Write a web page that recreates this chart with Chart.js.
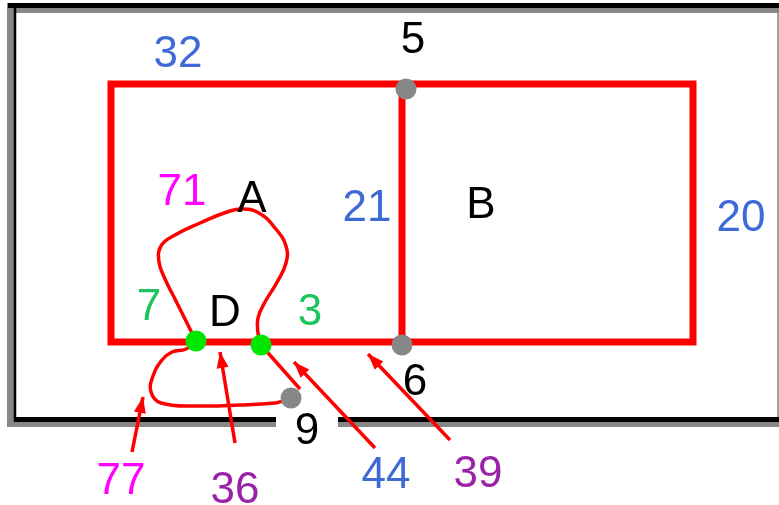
<!DOCTYPE html>
<html><head><meta charset="utf-8">
<script src="https://cdn.jsdelivr.net/npm/chart.js@4/dist/chart.umd.min.js"></script>
<style>html,body{margin:0;padding:0;background:#fff;overflow:hidden}canvas{display:block}</style>
</head><body>
<canvas id="c" width="779" height="505" style="width:779px;height:505px"></canvas>
<script>
// ---------- DATA (diagram coordinates, y grows downward) ----------
// outer frame (band centre lines)
const frameGrayTop    = [[7,10.5],[779,10.5]];
const frameBlackTop   = [[8,5.5],[779,5.5]];
const frameGrayLeft   = [[10.5,3],[10.5,427]];
const frameBlackLeft  = [[15,8],[15,422]];
const frameBlackBotL  = [[14,419.5],[276,419.5]];
const frameBlackBotR  = [[338,419.5],[779,419.5]];
const frameGrayBotL   = [[7,424.5],[276,424.5]];
const frameGrayBotR   = [[338,424.5],[779,424.5]];
const frameRight      = [[778,3],[778,427]];
// red regions A | B
const boxOutline = [[111,84],[693,84],[693,342],[111,342],[111,84]];
const divider    = [[402,84],[402,342]];
// red curves
const loopUpper = [[196,341],[186,321],[175,299],[165,279],[159,262],[161,246],[175,235],[200,223],[227,212],[243,209],[259,213],[275,228],[286,246],[286,263],[276,284],[265,302],[258,318],[258,333],[261,345]];
const loopLower = [[196,341],[186,349],[172,352],[162,360],[153,376],[151,392],[161,403],[200,406],[240,405],[275,403],[283,401]];
const tailLine  = [[261,345],[300,389]];
// arrows: tail -> head
const arrowTails = [[132,452],[235,443],[375,448],[450,440]];
const arrowHeads = [[143,397],[220,352],[294,362],[368,354]];
// nodes
const grayNodes  = [[406,89],[402,345],[291,398]];
const greenNodes = [[196,341],[261,345]];
// text labels
const labelTexts = ['32','5','71','A','21','B','20','7','D','3','6','9','77','36','44','39'];
const labelX     = [178,413,182,252,367,481,741,149,225,310,415,307,121,235,386,478];
const labelY     = [51,37,189,196,205,202,215,304,310,309,379,428,478,487,472,471];

// ---------- STYLE ----------
const C = {red:'#ff0000', gray:'#878787', black:'#000000', green:'#00e600',
  blue:'#3e6ad6', magenta:'#ff00ff', purple:'#9a22a8', label:'#1cc45e'};
const labelColors = [C.blue,C.black,C.magenta,C.black,C.blue,C.black,C.blue,C.label,C.black,C.label,C.black,C.black,C.magenta,C.purple,C.blue,C.purple];
const FONT_SIZE = 44;

const pts = a => a.map(p => ({x:p[0], y:p[1]}));
function line(data, color, width, order, extra){
  return Object.assign({data:pts(data), showLine:true, borderColor:color, borderWidth:width,
    pointRadius:0, tension:0, fill:false, order:order, borderCapStyle:'butt',
    borderJoinStyle:'miter', clip:false, arrow:false}, extra||{});
}
const datasets = [
  // nodes on top
  {data:pts(grayNodes), showLine:false, pointRadius:10.5, pointBackgroundColor:C.gray, pointBorderWidth:0, order:0, clip:false},
  {data:pts(greenNodes), showLine:false, pointRadius:10.5, pointBackgroundColor:C.green, pointBorderWidth:0, order:0, clip:false},
  line(boxOutline, C.red, 7, 2, {borderCapStyle:'square'}),
  line(divider, C.red, 7, 2),
  line(loopUpper, C.red, 3.5, 1, {tension:0.45, borderJoinStyle:'round', borderCapStyle:'round'}),
  line(loopLower, C.red, 3.5, 1, {tension:0.45, borderJoinStyle:'round', borderCapStyle:'round'}),
  line(tailLine, C.red, 3.5, 1),
  line(frameGrayTop, C.gray, 5, 5),
  line(frameGrayLeft, C.gray, 7, 5),
  line(frameGrayBotL, C.gray, 5, 5),
  line(frameGrayBotR, C.gray, 5, 5),
  line(frameRight, '#a0a0a0', 2, 5),
  line(frameBlackTop, C.black, 5, 4),
  line(frameBlackLeft, C.black, 2.5, 4),
  line(frameBlackBotL, C.black, 5, 4),
  line(frameBlackBotR, C.black, 5, 4),
];
arrowTails.forEach((t,i) => datasets.push(line([t, arrowHeads[i]], C.red, 3.5, 1, {arrow:true})));

const overlay = {
  id:'overlay',
  afterDatasetsDraw(chart){
    const ctx = chart.ctx, xs = chart.scales.x, ys = chart.scales.y;
    ctx.save();
    // arrowheads
    chart.data.datasets.forEach((ds,i) => {
      if(!ds.arrow) return;
      const m = chart.getDatasetMeta(i).data;
      const a = m[0], b = m[1];
      const ang = Math.atan2(b.y - a.y, b.x - a.x);
      const L = 16, W = 6;
      ctx.fillStyle = C.red;
      ctx.beginPath();
      ctx.moveTo(b.x, b.y);
      ctx.lineTo(b.x - L*Math.cos(ang) + W*Math.sin(ang), b.y - L*Math.sin(ang) - W*Math.cos(ang));
      ctx.lineTo(b.x - L*Math.cos(ang) - W*Math.sin(ang), b.y - L*Math.sin(ang) + W*Math.cos(ang));
      ctx.closePath();
      ctx.fill();
    });
    // labels
    ctx.font = FONT_SIZE + 'px "Liberation Sans", Arial, sans-serif';
    ctx.textAlign = 'center';
    ctx.textBaseline = 'alphabetic';
    labelTexts.forEach((t,i) => {
      ctx.fillStyle = labelColors[i];
      ctx.fillText(t, xs.getPixelForValue(labelX[i]), ys.getPixelForValue(labelY[i]) + FONT_SIZE*0.358);
    });
    ctx.restore();
  }
};

new Chart(document.getElementById('c'), {
  type:'scatter',
  data:{datasets},
  options:{
    responsive:false, animation:false, devicePixelRatio:1, events:[],
    layout:{padding:0, autoPadding:false},
    plugins:{legend:{display:false}, tooltip:{enabled:false}, title:{display:false}},
    scales:{
      x:{type:'linear', min:0, max:779, display:false},
      y:{type:'linear', min:0, max:505, reverse:true, display:false}
    }
  },
  plugins:[overlay]
});
</script>
</body></html>
